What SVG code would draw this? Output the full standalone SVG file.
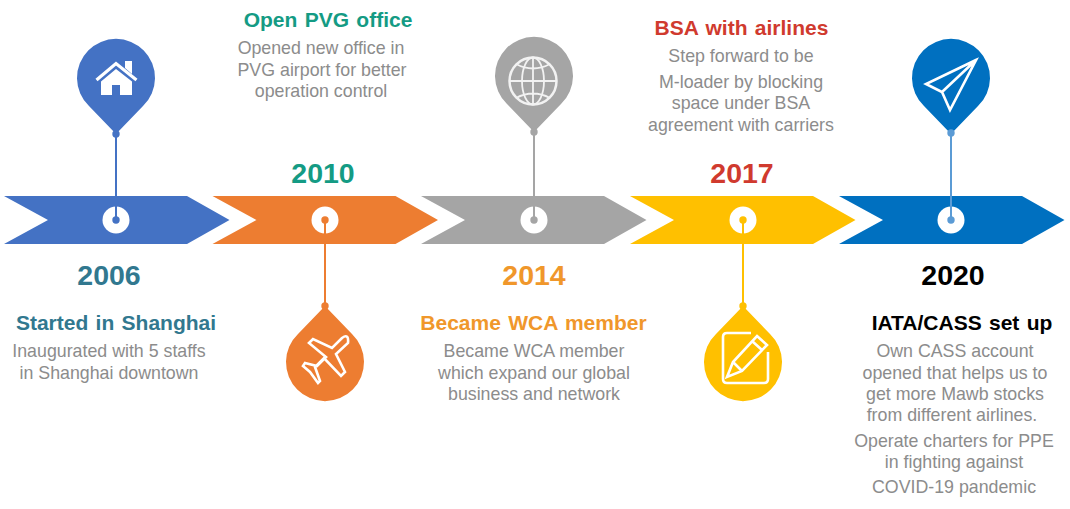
<svg xmlns="http://www.w3.org/2000/svg" width="1070" height="509" viewBox="0 0 1070 509">
<style>
text{font-family:"Liberation Sans",Arial,sans-serif;text-anchor:middle}
.b{font-weight:bold;font-size:21px;word-spacing:1.500px}
.y{font-weight:bold;font-size:28.500px}
.d{font-size:17.800px;fill:#8c8c8c}
.ic{fill:none;stroke:#fff;stroke-width:2.600;stroke-linejoin:miter}
</style>
<defs>
<path id="chev" d="M0 0H183L225.500 24L183 48H0L44 24Z"/>
<path id="pin" d="M0 57L-27 29A39 39 0 1 1 27 29Z"/>
</defs>
<rect width="1070" height="509" fill="#fff"/>
<g id="connectors">
<path d="M116 134V220" stroke="#4472c4" stroke-width="2" fill="none"/>
<path d="M325 220V306" stroke="#ed7d31" stroke-width="2" fill="none"/>
<path d="M534 132V220" stroke="#a5a5a5" stroke-width="2" fill="none"/>
<path d="M743 220V306" stroke="#ffc000" stroke-width="2" fill="none"/>
<path d="M951 133V220" stroke="#5b9bd5" stroke-width="2" fill="none"/>
</g>
<g id="node-2006">
<use href="#chev" x="4" y="196" fill="#4472c4"/>
<circle cx="116" cy="220" r="13.500" fill="#fff"/>
<path d="M116 206V220" stroke="#4472c4" stroke-width="2"/>
<circle cx="116" cy="220" r="3.700" fill="#4472c4"/>
<use href="#pin" x="116" y="77" fill="#4472c4"/>
<circle cx="116" cy="134" r="3.700" fill="#4472c4"/>
<path d="M96.500 80L116 63.500L136.500 80" fill="none" stroke="#fff" stroke-width="3.200"/>
<path d="M125 61H132V74L125 68Z" fill="#fff"/>
<path d="M101 81.500L116 69L132 81.500V95H120V85H112V95H101Z" fill="#fff"/>
<text x="109" y="285" class="y" fill="#31788f">2006</text>
<text x="116" y="330" class="b" fill="#31788f">Started in Shanghai</text>
<text x="109" y="357" class="d">Inaugurated with 5 staffs</text>
<text x="109" y="379" class="d">in Shanghai downtown</text>
</g>
<g id="node-2010">
<use href="#chev" x="212.500" y="196" fill="#ed7d31"/>
<circle cx="325" cy="220" r="13.500" fill="#fff"/>
<path d="M325 220V234" stroke="#ed7d31" stroke-width="2"/>
<circle cx="325" cy="220" r="3.700" fill="#ed7d31"/>
<use href="#pin" transform="translate(325 363) scale(1 -1)" fill="#ed7d31"/>
<circle cx="325" cy="306" r="3.700" fill="#ed7d31"/>
<path class="ic" stroke-linejoin="round" d="M342 338Q349 333 348 343L336 354L345 372L341 376L324 358L315 367L320 381L318 383L310 372L303 366L305 363L317 366L326 357L309 343L313 339L332 348Z"/>
<text x="323" y="183" class="y" fill="#149b84">2010</text>
<text x="328" y="27" class="b" fill="#149b84">Open PVG office</text>
<text x="321" y="54" class="d">Opened new office in</text>
<text x="322" y="76" class="d">PVG airport for better</text>
<text x="321" y="97" class="d">operation control</text>
</g>
<g id="node-2014">
<use href="#chev" x="421" y="196" fill="#a5a5a5"/>
<circle cx="534" cy="220" r="13.500" fill="#fff"/>
<path d="M534 206V220" stroke="#a5a5a5" stroke-width="2"/>
<circle cx="534" cy="220" r="3.700" fill="#a5a5a5"/>
<use href="#pin" x="534" y="75" fill="#a5a5a5"/>
<circle cx="534" cy="132" r="3.700" fill="#a5a5a5"/>
<g fill="none" stroke="#f2f2f2">
<circle cx="533" cy="81" r="23.500" stroke-width="2.500"/>
<path stroke-width="1.800" d="M533 57V105M509.500 81H556.500M516 64Q533 73 550 64M516 98Q533 89 550 98"/>
<ellipse cx="533" cy="81" rx="11" ry="23.500" stroke-width="1.800"/>
</g>
<text x="534" y="285" class="y" fill="#f0972b">2014</text>
<text x="533.500" y="330" class="b" fill="#f0972b">Became WCA member</text>
<text x="534" y="357" class="d">Became WCA member</text>
<text x="534" y="379" class="d">which expand our global</text>
<text x="534" y="400" class="d">business and network</text>
</g>
<g id="node-2017">
<use href="#chev" x="630" y="196" fill="#ffc000"/>
<circle cx="743" cy="220" r="13.500" fill="#fff"/>
<path d="M743 220V234" stroke="#ffc000" stroke-width="2"/>
<circle cx="743" cy="220" r="3.700" fill="#ffc000"/>
<use href="#pin" transform="translate(743 363) scale(1 -1)" fill="#ffc000"/>
<circle cx="743" cy="306" r="3.700" fill="#ffc000"/>
<path class="ic" d="M751 333H727Q723 333 723 337V379Q723 383 727 383H764Q768 383 768 379V352"/>
<path class="ic" d="M757 336L767 345L742 371L727 377L733 362ZM733 362L742 371M752 341L762 350"/>
<text x="742" y="183" class="y" fill="#d03a2e">2017</text>
<text x="741.500" y="35" class="b" fill="#d03a2e">BSA with airlines</text>
<text x="741" y="62" class="d">Step forward to be</text>
<text x="741" y="88" class="d">M-loader by blocking</text>
<text x="741" y="109" class="d">space under BSA</text>
<text x="741" y="131" class="d">agreement with carriers</text>
</g>
<g id="node-2020">
<use href="#chev" x="839" y="196" fill="#0070c0"/>
<circle cx="951" cy="220" r="13.500" fill="#fff"/>
<use href="#pin" x="951" y="77" fill="#0070c0"/>
<path d="M951 133V220" stroke="#5b9bd5" stroke-width="2"/>
<circle cx="951" cy="133" r="3.700" fill="#5b9bd5"/>
<circle cx="951" cy="220" r="3.700" fill="#5b9bd5"/>
<path class="ic" d="M976 60L926 84L942 92L950 110ZM976 60L942 92"/>
<text x="953" y="285" class="y" fill="#000">2020</text>
<text x="962" y="330" class="b" fill="#000">IATA/CASS set up</text>
<text x="955" y="357" class="d">Own CASS account</text>
<text x="955" y="379" class="d">opened that helps us to</text>
<text x="955" y="400" class="d">get more Mawb stocks</text>
<text x="952" y="421" class="d">from different airlines.</text>
<text x="954" y="447" class="d">Operate charters for PPE</text>
<text x="954" y="468" class="d">in fighting against</text>
<text x="954" y="493" class="d">COVID-19 pandemic</text>
</g>
</svg>
